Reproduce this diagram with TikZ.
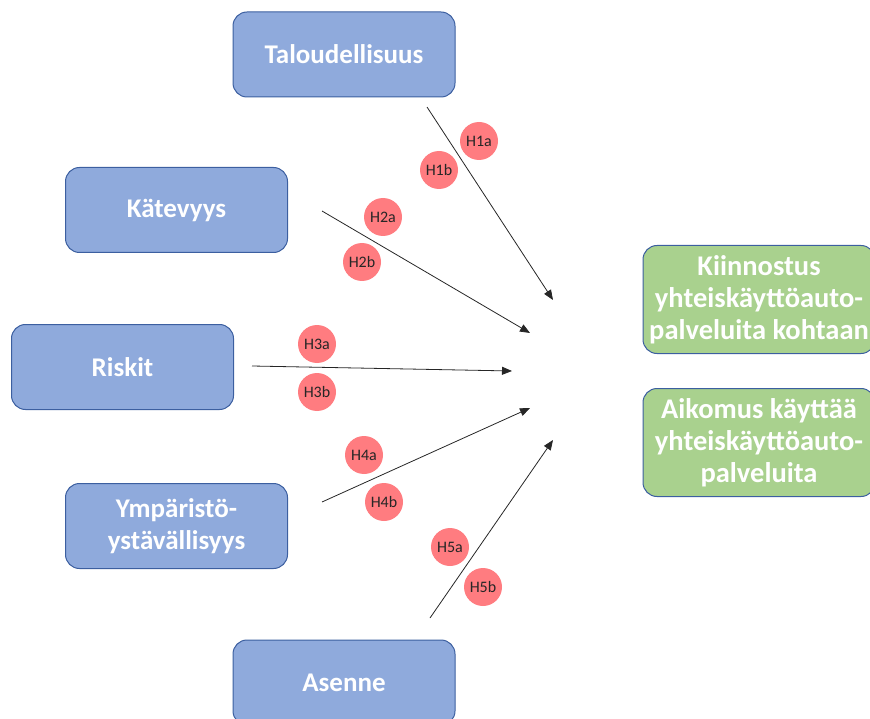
\documentclass[tikz,border=0pt]{standalone}
\usepackage{fontspec}
\setmainfont{Carlito}
\usetikzlibrary{arrows.meta}
\definecolor{BoxBlue}{RGB}{143,170,220}
\definecolor{BoxEdge}{RGB}{60,95,160}
\definecolor{BoxGreen}{RGB}{169,209,142}
\definecolor{HypRed}{RGB}{255,124,128}

\begin{document}
\begin{tikzpicture}[x=1pt, y=-1pt,
          cause/.style={rectangle, rounded corners=14pt, draw=BoxEdge,
                        line width=1pt, fill=BoxBlue, minimum width=222pt,
                        minimum height=85pt, text=white, align=center,
                        font=\fontsize{27}{31.5}\selectfont\bfseries},
          outcome/.style={cause, fill=BoxGreen, minimum width=232pt,
                          minimum height=108pt, inner xsep=0pt,
                          font=\fontsize{28.5}{32}\selectfont\bfseries},
          hyp/.style={circle, fill=HypRed, minimum size=38pt, inner sep=0pt,
                      text=black!85, font=\fontsize{16}{18}\selectfont},
          arr/.style={-{Triangle[length=10pt, width=8pt]}, line width=0.8pt,
                      black!85}
        ]
        \useasboundingbox (0,0) rectangle (870,719);

        % Factors
        \node[cause] (talous) at (344, 54.5) {Taloudellisuus};
        \node[cause] (kate)   at (176.5, 210) {Kätevyys};
        \node[cause] (riski)  at (122.5, 367) {Riskit};
        \node[cause] (ymp)    at (176.5, 526) {Ympäristö-\\ystävällisyys};
        \node[cause] (asenne) at (344, 682.5) {Asenne};

        % Outcomes
        \node[outcome] (kiinn) at (759, 299.5)
              {Kiinnostus\\yhteiskäyttöauto-\\palveluita kohtaan};
        \node[outcome] (aikom) at (759, 442.5)
              {Aikomus käyttää\\yhteiskäyttöauto-\\palveluita};

        % Arrow ends
        \coordinate (s1) at (427, 107);  \coordinate (e1) at (553, 300);
        \coordinate (s2) at (322, 211);  \coordinate (e2) at (530, 333);
        \coordinate (s3) at (252, 366);  \coordinate (e3) at (512, 371);
        \coordinate (s4) at (322, 502);  \coordinate (e4) at (530, 408);
        \coordinate (s5) at (430, 618);  \coordinate (e5) at (553, 440);

        \foreach \n in {1,...,5} {
          \draw[arr] (s\n) -- (e\n);
        }

        % Hypotheses
        \node[hyp] (h1a) at (479, 141) {H1a};
        \node[hyp] (h1b) at (439, 170) {H1b};
        \node[hyp] (h2a) at (383, 217) {H2a};
        \node[hyp] (h2b) at (362, 262) {H2b};
        \node[hyp] (h3a) at (317, 344) {H3a};
        \node[hyp] (h3b) at (317, 392) {H3b};
        \node[hyp] (h4a) at (364, 455) {H4a};
        \node[hyp] (h4b) at (384, 502) {H4b};
        \node[hyp] (h5a) at (450, 547) {H5a};
        \node[hyp] (h5b) at (483, 587) {H5b};
      \end{tikzpicture}
\end{document}
